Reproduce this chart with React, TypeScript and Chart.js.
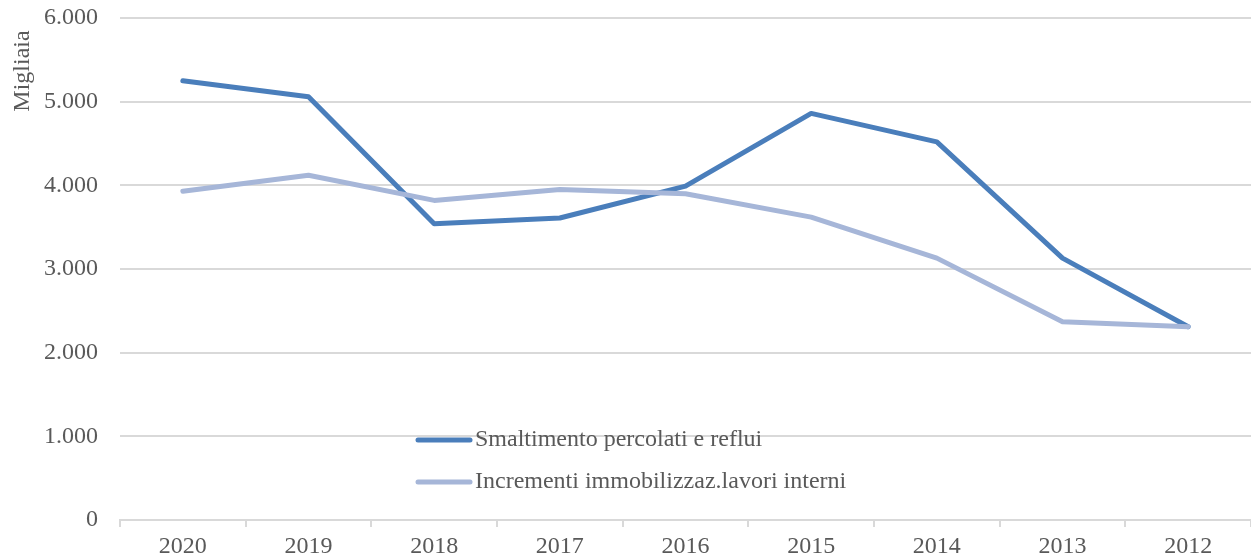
import React, { useEffect, useRef } from "react";
import { Chart, registerables } from "chart.js";

Chart.register(...registerables);

const categories = ["2020", "2019", "2018", "2017", "2016", "2015", "2014", "2013", "2012"];
const smaltimento = [5250, 5060, 3540, 3610, 3990, 4860, 4520, 3130, 2310];
const incrementi = [3930, 4120, 3820, 3950, 3900, 3620, 3130, 2370, 2310];
const seriesLabels = ["Smaltimento percolati e reflui", "Incrementi immobilizzaz.lavori interni"];
const yTicks = [0, 1000, 2000, 3000, 4000, 5000, 6000];
const yTitle = "Migliaia";

const DARK = "#4a7ebb";
const LIGHT = "#a6b6d8";
const TEXT = "#595959";
const FONT = "'Liberation Serif', 'Times New Roman', serif";

const overlayPlugin = {
  id: "overlay",
  afterDraw(chart: any) {
    const ctx = chart.ctx;
    const items = [
      { label: seriesLabels[0], color: DARK, y: 440 },
      { label: seriesLabels[1], color: LIGHT, y: 482 },
    ];
    ctx.save();
    ctx.font = `24px ${FONT}`;
    ctx.textBaseline = "middle";
    ctx.fillStyle = TEXT;
    items.forEach((it) => {
      ctx.strokeStyle = it.color;
      ctx.lineWidth = 5;
      ctx.lineCap = "round";
      ctx.beginPath();
      ctx.moveTo(418, it.y);
      ctx.lineTo(470, it.y);
      ctx.stroke();
      ctx.fillText(it.label, 475, it.y);
    });
    // y-axis title
    ctx.translate(23, 71);
    ctx.rotate(-Math.PI / 2);
    ctx.textAlign = "center";
    ctx.fillText(yTitle, 0, 0);
    ctx.restore();
  },
};

export default function App() {
  const ref = useRef<HTMLCanvasElement | null>(null);
  useEffect(() => {
    if (!ref.current) return;
    const chart = new Chart(ref.current, {
      type: "line",
      data: {
        labels: categories,
        datasets: [
          {
            label: seriesLabels[0],
            data: smaltimento,
            borderColor: DARK,
            backgroundColor: DARK,
            borderWidth: 5,
            pointRadius: 0,
            tension: 0,
            borderCapStyle: "round",
            borderJoinStyle: "round",
            order: 1,
          },
          {
            label: seriesLabels[1],
            data: incrementi,
            borderColor: LIGHT,
            backgroundColor: LIGHT,
            borderWidth: 5,
            pointRadius: 0,
            tension: 0,
            borderCapStyle: "round",
            borderJoinStyle: "round",
            order: 0,
          },
        ],
      },
      options: {
        animation: false,
        responsive: false,
        maintainAspectRatio: false,
        layout: { padding: { top: 18, right: 0, left: 0, bottom: 0 } },
        plugins: {
          legend: { display: false },
          tooltip: { enabled: false },
        },
        scales: {
          x: {
            offset: true,
            grid: {
              offset: true,
              drawOnChartArea: false,
              drawTicks: true,
              tickLength: 7,
              color: "#d9d9d9",
              lineWidth: 2,
            },
            border: { color: "#d9d9d9", width: 2 },
            ticks: {
              color: TEXT,
              font: { family: FONT, size: 24 },
              padding: 5,
              maxRotation: 0,
            },
            afterFit: (s: any) => {
              s.height = 39;
              s.paddingLeft = 0;
              s.paddingRight = 0;
            },
          },
          y: {
            min: 0,
            max: 6000,
            afterBuildTicks: (s: any) => {
              s.ticks = yTicks.map((v) => ({ value: v }));
            },
            grid: { color: "#d9d9d9", lineWidth: 2, drawTicks: false },
            border: { display: false },
            ticks: {
              color: TEXT,
              font: { family: FONT, size: 24 },
              padding: 22,
              callback: (v: any) => Number(v).toLocaleString("it-IT"),
            },
            afterFit: (s: any) => {
              s.width = 120;
              s.paddingTop = 0;
              s.paddingBottom = 0;
            },
          },
        },
      },
      plugins: [overlayPlugin],
    });
    return () => chart.destroy();
  }, []);
  return (
    <div style={{ position: "absolute", left: 0, top: 0, width: 1251, height: 559, background: "#fff" }}>
      <canvas ref={ref} width={1251} height={559} style={{ width: 1251, height: 559 }} />
    </div>
  );
}
